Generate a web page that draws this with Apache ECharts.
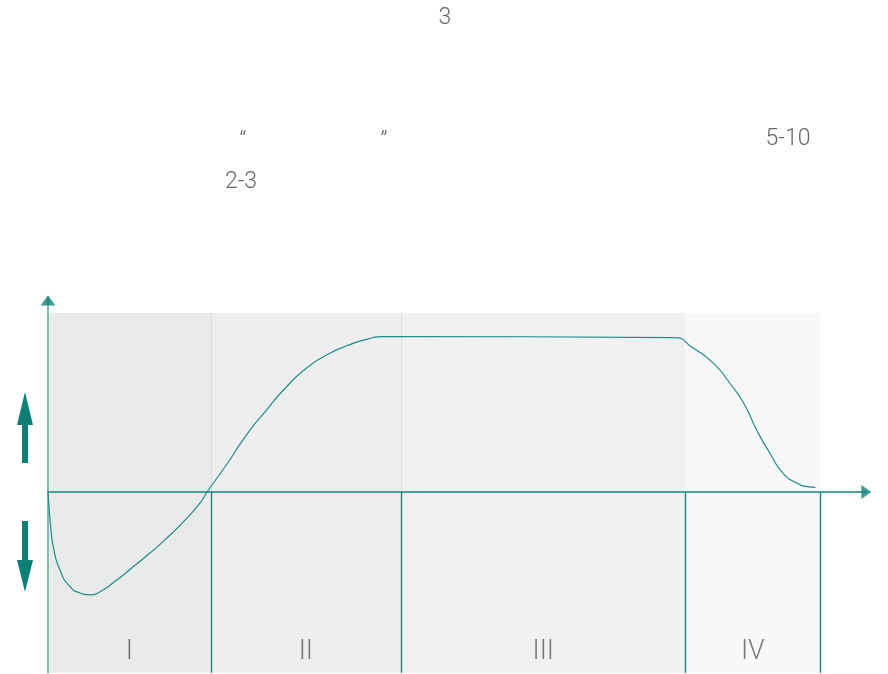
<!DOCTYPE html>
<html>
<head>
<meta charset="utf-8">
<script src="https://cdn.jsdelivr.net/npm/echarts@6/dist/echarts.min.js"></script>
<style>
html,body{margin:0;padding:0;background:#fff;}
#chart{width:888px;height:674px;}
</style>
</head>
<body>
<div id="chart"></div>
<script>
// ---- data ----
const curveX = [0, 0.13, 0.35, 0.69, 1.55, 2.85, 4.15, 5.44, 6.74, 8.9, 11.0, 13.2, 15.4, 17.5, 19.7, 20.6,
  23.1, 25.7, 28.3, 30.9, 33.5, 36.1, 38.7, 41.3, 43.4, 81.0, 83.6, 86.2, 88.3, 90.1, 91.8, 93.5, 95.2, 97.0, 98.3, 99.4];
const curveY = [0, -8.2, -19.4, -30.6, -43.6, -52.9, -56.4, -57.5, -55.7, -49.2, -41.9, -34.1, -25.7, -16.8, -6.1, 0,
  15.1, 31.8, 45.8, 58.8, 69.3, 76.5, 81.7, 85.3, 86.8, 86.2, 80.3, 71.9, 60.9, 49.7, 34.6, 21.8, 10.6, 5.0, 3.0, 2.6];
const phaseBounds = [0, 21.1, 45.7, 82.6, 100];
const phaseLabels = ['I', 'II', 'III', 'IV'];
const yTop = 100, yBottom = -101;

// ---- styles ----
const teal = '#17847d';
const dark = '#0e7f77';
const phaseColors = ['#e9ebea', '#eeeeee', '#f1f1f1', '#f8f8f8'];

const curve = curveX.map((x, i) => [x, curveY[i]]);
const areas = phaseLabels.map((_, i) => [
  { xAxis: phaseBounds[i], yAxis: yBottom, itemStyle: { color: phaseColors[i] } },
  { xAxis: phaseBounds[i + 1], yAxis: yTop }
]);
const lowerLines = phaseBounds.slice(1).map(b => [{ coord: [b, 0], lineStyle: { color: teal } }, { coord: [b, yBottom] }]);
const upperLines = phaseBounds.slice(1, 3).map(b => [{ coord: [b, 0] }, { coord: [b, yTop] }]);
const labelPts = phaseLabels.map((l, i) => ({ value: [(phaseBounds[i] + phaseBounds[i + 1]) / 2, -89.5], name: l }));

const chart = echarts.init(document.getElementById('chart'), null, { renderer: 'canvas' });
const textStyle = { fill: '#666666', fontFamily: 'Roboto', fontWeight: 300, fontSize: 23, textVerticalAlign: 'middle', textAlign: 'center' };
chart.setOption({
  animation: false,
  grid: { left: 48, right: 21.7, top: 296.9, bottom: 1.2 },
  xAxis: {
    type: 'value', min: 0, max: 106, z: 5,
    axisLine: { show: true, onZero: true, lineStyle: { color: teal, width: 1.5 } },
    axisTick: { show: false }, axisLabel: { show: false }, splitLine: { show: false }
  },
  yAxis: {
    type: 'value', min: -101, max: 109, z: 5,
    axisLine: { show: true, onZero: false, lineStyle: { color: '#86bcb8', width: 2 } },
    axisTick: { show: false }, axisLabel: { show: false }, splitLine: { show: false }
  },
  graphic: [
    { type: 'polygon', shape: { points: [[25, 392], [33, 425], [28, 425], [28, 463], [22, 463], [22, 425], [17, 425]] }, style: { fill: dark } },
    { type: 'polygon', shape: { points: [[25, 592], [33, 560], [28, 560], [28, 521], [22, 521], [22, 560], [17, 560]] }, style: { fill: dark } },
    { type: 'text', x: 445, y: 18, style: Object.assign({ text: '3' }, textStyle) },
    { type: 'text', x: 243, y: 142, style: Object.assign({ text: '\u201c' }, textStyle) },
    { type: 'text', x: 384, y: 142, style: Object.assign({ text: '\u201d' }, textStyle) },
    { type: 'text', x: 788, y: 139, style: Object.assign({ text: '5-10' }, textStyle) },
    { type: 'text', x: 241, y: 182, style: Object.assign({ text: '2-3' }, textStyle) }
  ],
  series: [
    {
      type: 'line', data: [], silent: true, z: -2,
      markArea: { silent: true, data: areas }
    },
    {
      type: 'line', data: [], silent: true, z: -1,
      markLine: {
        silent: true, symbol: 'none', label: { show: false },
        lineStyle: { color: '#dcdcdc', width: 1, type: 'solid' },
        data: upperLines
      }
    },
    {
      type: 'line', data: [], silent: true, z: 6,
      markLine: {
        silent: true, symbol: 'none', label: { show: false },
        lineStyle: { color: teal, width: 1.4, type: 'solid', opacity: 1 },
        data: lowerLines
      }
    },
    {
      type: 'line', data: curve, smooth: 0.6, showSymbol: false, silent: true, z: 7,
      lineStyle: { color: '#1e8c86', width: 1.2 }
    },
    {
      type: 'scatter', data: labelPts, symbolSize: 1, silent: true,
      itemStyle: { color: 'rgba(0,0,0,0)' },
      label: { show: true, position: 'inside', formatter: p => p.name, color: '#5a5a5a', fontFamily: 'Roboto', fontWeight: 300, fontSize: 27 }
    },
    {
      type: 'scatter', clip: false, silent: true, z: 8,
      data: [{ value: [0, 107], symbol: 'triangle', symbolSize: [15, 10], symbolRotate: 0 },
             { value: [106, 0], symbol: 'triangle', symbolSize: [14, 10], symbolRotate: -90 }],
      itemStyle: { color: dark }
    }
  ]
});
</script>
</body>
</html>
